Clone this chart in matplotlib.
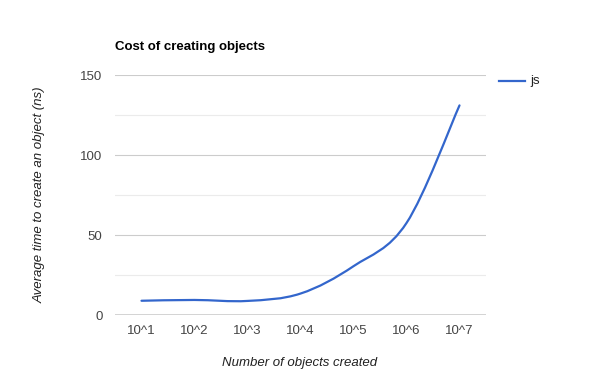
import matplotlib
matplotlib.use("Agg")
import matplotlib.pyplot as plt
from matplotlib.path import Path
from matplotlib.patches import PathPatch
from matplotlib.lines import Line2D

plt.rcParams['font.family'] = ['Liberation Sans', 'DejaVu Sans']

# data
labels = ['10^1', '10^2', '10^3', '10^4', '10^5', '10^6', '10^7']
js_ns = [8.9, 9.4, 8.8, 13.4, 30.5, 57.5, 131.0]

blue = '#3366cc'

fig = plt.figure(figsize=(6.0, 3.9), dpi=100)
ax = fig.add_axes([115 / 600, 75 / 390, 371 / 600, 240 / 390])

xs = list(range(len(labels)))

# smooth curve through the points (cubic bezier segments, like curveType 'function')
k = 0.17
verts = [(xs[0], js_ns[0])]
codes = [Path.MOVETO]
n = len(xs)
for i in range(n - 1):
    x0, y0 = xs[max(i - 1, 0)], js_ns[max(i - 1, 0)]
    x1, y1 = xs[i], js_ns[i]
    x2, y2 = xs[i + 1], js_ns[i + 1]
    x3, y3 = xs[min(i + 2, n - 1)], js_ns[min(i + 2, n - 1)]
    c1 = (x1 + (x2 - x0) * k, y1 + (y2 - y0) * k)
    c2 = (x2 - (x3 - x1) * k, y2 - (y3 - y1) * k)
    verts += [c1, c2, (x2, y2)]
    codes += [Path.CURVE4] * 3
ax.add_patch(PathPatch(Path(verts, codes), facecolor='none', edgecolor=blue,
                       lw=1.6, capstyle='round', zorder=3))

ax.set_xlim(-0.5, len(labels) - 0.5)
ax.set_ylim(0, 150)

ax.set_yticks([0, 50, 100, 150])
ax.set_yticks([25, 75, 125], minor=True)
ax.grid(True, axis='y', which='major', color='#cccccc', lw=0.8)
ax.grid(True, axis='y', which='minor', color='#ebebeb', lw=0.8)
ax.axhline(0, color='#333333', lw=1.0, zorder=4)
ax.set_axisbelow(True)

ax.set_xticks(xs)
ax.set_xticklabels(labels)
ax.tick_params(axis='both', which='both', length=0, labelsize=9.5,
               labelcolor='#444444')
ax.tick_params(axis='y', pad=9)
ax.tick_params(axis='x', pad=7.5)
for s in ax.spines.values():
    s.set_visible(False)

fig.text(115 / 600, 1 - 47 / 390, 'Cost of creating objects', fontsize=9.5,
         fontweight='bold', color='#000000', va='center', ha='left')
fig.text(300 / 600, 1 - 363 / 390, 'Number of objects created', fontsize=9.5,
         style='italic', color='#222222', ha='center', va='center')
fig.text(40 / 600, 1 - 195 / 390, 'Average time to create an object (ns)',
         fontsize=9.5, style='italic', color='#222222', rotation=90,
         ha='center', va='center')

# legend on the right
fig.add_artist(Line2D([499 / 600, 525 / 600], [1 - 81 / 390, 1 - 81 / 390],
                      color=blue, lw=1.6))
fig.text(530 / 600, 1 - 81 / 390, 'js', fontsize=9.5, color='#222222',
         va='center', ha='left')

fig.savefig('out.png', dpi=100)
